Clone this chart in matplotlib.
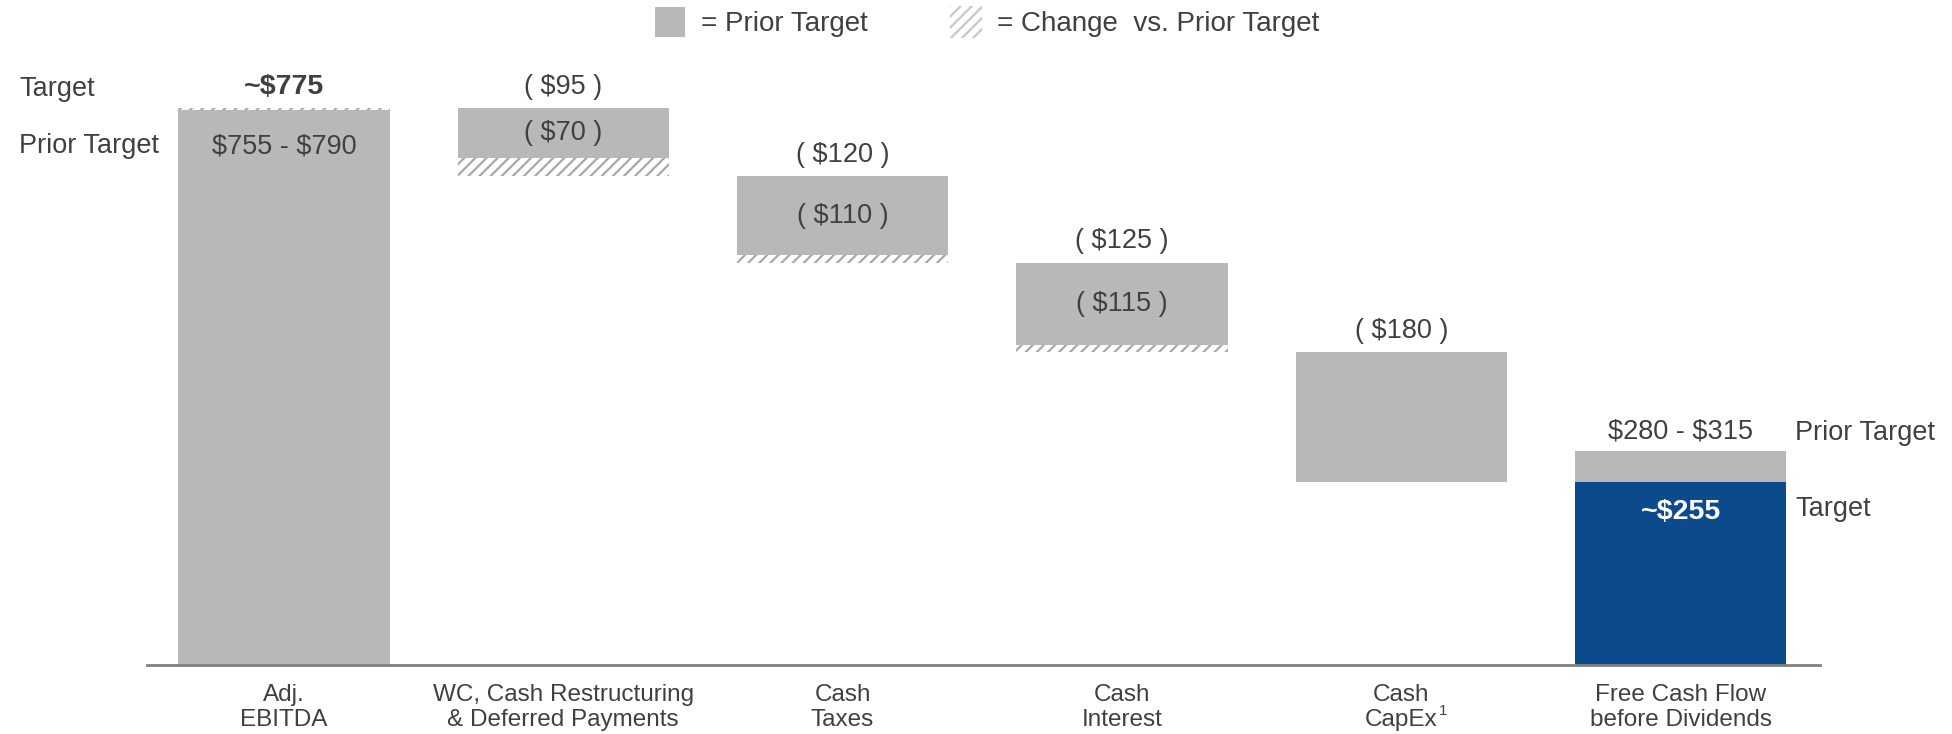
import matplotlib.pyplot as plt
import numpy as np
from matplotlib.patches import Rectangle

plt.rcParams['font.family'] = ['Liberation Sans', 'DejaVu Sans']
plt.rcParams['hatch.linewidth'] = 1.6

categories = ['Adj.\nEBITDA', 'WC, Cash Restructuring\n& Deferred Payments', 'Cash\nTaxes',
              'Cash\nInterest', 'Cash\nCapEx', 'Free Cash Flow\nbefore Dividends']
ebitda_target = 775
ebitda_prior = 772.5          # midpoint of $755 - $790
step_prior = [70, 110, 115, 180]
step_target = [95, 120, 125, 180]
fcf_target = 255
fcf_prior = 297.5             # midpoint of $280 - $315
top_labels = [r'~\$775', r'( \$95 )', r'( \$120 )', r'( \$125 )', r'( \$180 )', r'\$280 - \$315']
inner_labels = [r'\$755 - \$790', r'( \$70 )', r'( \$110 )', r'( \$115 )', '', r'~\$255']

gray = '#B8B8B8'
hatchc = '#A8A8A8'
blue = '#0B4A8B'
txt = '#404040'
fs = 19.5

fig = plt.figure(figsize=(19.52, 7.34), dpi=100)
ax = fig.add_axes([0.0753, 0.094, 0.857, 0.7831])
w = 0.757
x = np.arange(len(categories))

# first bar
ax.bar(x[0], ebitda_prior, w, color=gray, linewidth=0)
ax.bar(x[0], ebitda_target - ebitda_prior, w, bottom=ebitda_prior, color='white',
       edgecolor=hatchc, hatch='///', linewidth=0)

# steps
tops = ebitda_target - np.concatenate([[0], np.cumsum(step_target)[:-1]])
for i in range(len(step_prior)):
    top = tops[i]
    ax.bar(x[i + 1], step_prior[i], w, bottom=top - step_prior[i], color=gray, linewidth=0)
    d = step_target[i] - step_prior[i]
    if d > 0:
        ax.bar(x[i + 1], d, w, bottom=top - step_target[i], color='white',
               edgecolor=hatchc, hatch='///', linewidth=0)
    ax.annotate(top_labels[i + 1], (x[i + 1], top), xytext=(0, 15.5), textcoords='offset points',
                ha='center', va='center', fontsize=fs, color=txt)
    if inner_labels[i + 1]:
        ax.text(x[i + 1], top - step_prior[i] / 2, inner_labels[i + 1], ha='center', va='center',
                fontsize=fs, color=txt)

# last bar
ax.bar(x[5], fcf_target, w, color=blue, linewidth=0)
ax.bar(x[5], fcf_prior - fcf_target, w, bottom=fcf_target, color=gray, linewidth=0)

ax.annotate(top_labels[0], (x[0], ebitda_target), xytext=(0, 15.5), textcoords='offset points',
            ha='center', va='center', fontsize=20.5, fontweight='bold', color=txt)
ax.text(x[0], ebitda_target - 54, inner_labels[0], ha='center', va='center', fontsize=fs, color=txt)
ax.annotate(top_labels[5], (x[5], fcf_prior), xytext=(0, 14), textcoords='offset points',
            ha='center', va='center', fontsize=fs, color=txt)
ax.annotate(inner_labels[5], (x[5], fcf_target), xytext=(0, -22), textcoords='offset points',
            ha='center', va='center', fontsize=20.5, fontweight='bold', color='white')

ax.set_xlim(-0.49, 5.498)
ax.set_ylim(0, 800)
ax.set_xticks(x)
ax.set_xticklabels(categories, fontsize=17.5, color=txt, linespacing=1.15)
ax.tick_params(axis='x', length=0, pad=14)
ax.set_yticks([])
for s in ['top', 'left', 'right']:
    ax.spines[s].set_visible(False)
ax.spines['bottom'].set_color('#808080')
ax.spines['bottom'].set_linewidth(2)

# footnote marker on CapEx
ax.annotate('1', (x[4], 0), xycoords=('data', 'axes fraction'), xytext=(30, -33),
            textcoords='offset points', ha='center', va='center', fontsize=11, color=txt,
            annotation_clip=False)

# side labels
fig.text(19 / 1952, 1 - 89 / 734, 'Target', fontsize=fs, color=txt, va='center')
fig.text(19 / 1952, 1 - 146 / 734, 'Prior Target', fontsize=fs, color=txt, va='center')
fig.text(1795 / 1952, 1 - 433 / 734, 'Prior Target', fontsize=fs, color=txt, va='center')
fig.text(1795 / 1952, 1 - 509 / 734, 'Target', fontsize=fs, color=txt, va='center')

# legend
fig.patches.append(Rectangle((655 / 1952, 1 - 37 / 734), 30 / 1952, 30 / 734,
                             transform=fig.transFigure, facecolor=gray, linewidth=0))
fig.text(701 / 1952, 1 - 24 / 734, '= Prior Target', fontsize=20, color=txt, va='center')
fig.patches.append(Rectangle((950 / 1952, 1 - 38 / 734), 32 / 1952, 32 / 734,
                             transform=fig.transFigure, facecolor='white', edgecolor='#C8C8C8',
                             hatch='///', linewidth=0))
fig.text(997 / 1952, 1 - 24 / 734, '= Change  vs. Prior Target', fontsize=20, color=txt, va='center')

plt.savefig('out.png', dpi=100)
plt.close()
